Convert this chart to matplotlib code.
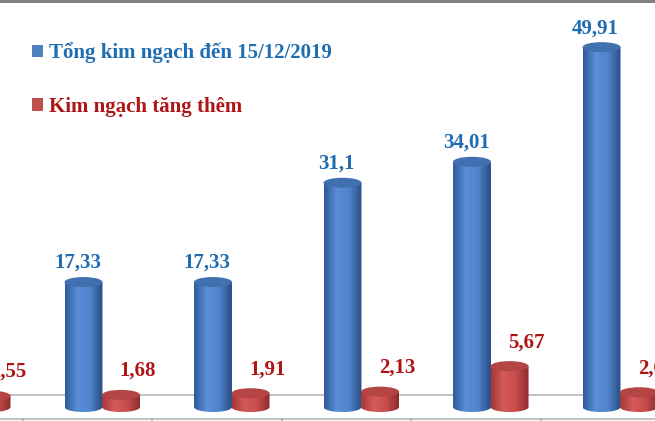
import numpy as np
import matplotlib.pyplot as plt
from matplotlib.patches import Ellipse, Polygon, Patch, Rectangle
from matplotlib.colors import LinearSegmentedColormap

# --- data ---
group_idx = np.arange(6)
tong_kim_ngach = [np.nan, 17.33, 17.33, 31.1, 34.01, 49.91]   # first bar lies outside the crop
kim_ngach_tang = [1.55, 1.68, 1.91, 2.13, 5.67, 2.05]
series_names = ["Tổng kim ngạch đến 15/12/2019", "Kim ngạch tăng thêm"]

plt.rcParams['font.family'] = ['Liberation Serif', 'DejaVu Serif']

blue_cmap = LinearSegmentedColormap.from_list(
    "b", ["#2f5a9c", "#5a8fd8", "#4f83c9", "#2a4c84"])
red_cmap = LinearSegmentedColormap.from_list(
    "r", ["#a23838", "#d55a5a", "#c84c4c", "#8c2c2c"])

W = 0.293     # cylinder width (category units)
H = 1.39      # ellipse height (value units)


def cylinder(ax, xc, val, cmap, top_color, z):
    if np.isnan(val):
        return
    t = np.linspace(np.pi, 2 * np.pi, 40)
    arc = np.column_stack([xc + W / 2 * np.cos(t), H / 2 * np.sin(t)])
    pts = np.vstack([[xc - W / 2, val], arc, [xc + W / 2, val]])
    body = Polygon(pts, closed=True, facecolor='none', edgecolor='none')
    ax.add_patch(body)
    grad = np.linspace(0, 1, 64).reshape(1, -1)
    im = ax.imshow(grad, cmap=cmap, aspect='auto', zorder=z,
                   extent=[xc - W / 2, xc + W / 2, -H / 2, val])
    im.set_clip_path(body)
    ax.add_patch(Ellipse((xc, val), W, H, facecolor=top_color,
                         edgecolor='none', zorder=z + 0.1))


fig = plt.figure(figsize=(6.55, 4.21), dpi=100)
ax = fig.add_axes([0, 0, 1, 1])
ax.set_xlim(0.2104, 5.268)
ax.set_ylim(-1.94, 56.45)
ax.axis('off')

# floor lines
ax.axhline(1.66, color='#b0b0b0', lw=1.1, zorder=1)
ax.axhline(-1.66, color='#b0b0b0', lw=1.1, zorder=1)
for b in group_idx[:-1] + 0.385:
    ax.plot([b, b], [-1.66, -1.94], color='#b0b0b0', lw=1.1, zorder=1)

for i in group_idx:
    cylinder(ax, i - 0.145, tong_kim_ngach[i], blue_cmap, '#4170b0', 3)
    cylinder(ax, i + 0.145, kim_ngach_tang[i], red_cmap, '#b54444', 4)

for i in group_idx:
    v = tong_kim_ngach[i]
    if not np.isnan(v):
        ax.annotate(f"{v:g}".replace('.', ','), (i - 0.145, v),
                    xytext=(-4.3, 13.7), textcoords='offset points',
                    ha='center', va='center', fontsize=15, fontweight='bold',
                    color='#1f6db2', zorder=6, annotation_clip=False)
    v = kim_ngach_tang[i]
    ax.annotate(f"{v:g}".replace('.', ','), (i + 0.145, v),
                xytext=(12.2, 17.3), textcoords='offset points',
                ha='center', va='center', fontsize=15, fontweight='bold',
                color='#b01515', zorder=6, annotation_clip=False)

handles = [Patch(facecolor='#4f81bd'), Patch(facecolor='#c0504d')]
leg = ax.legend(handles, series_names, loc='upper left',
                bbox_to_anchor=(0.0489, 0.899), frameon=False,
                borderpad=0, borderaxespad=0, handlelength=0.55,
                handleheight=0.55, handletextpad=0.28, labelspacing=1.6,
                prop={'size': 15, 'weight': 'bold'})
for txt, c in zip(leg.get_texts(), ['#1f6db2', '#b01515']):
    txt.set_color(c)

fig.add_artist(Rectangle((0, 1 - 3 / 421), 1, 3 / 421, transform=fig.transFigure,
                         facecolor='#808080', edgecolor='none'))

fig.savefig('out.png', dpi=100)
